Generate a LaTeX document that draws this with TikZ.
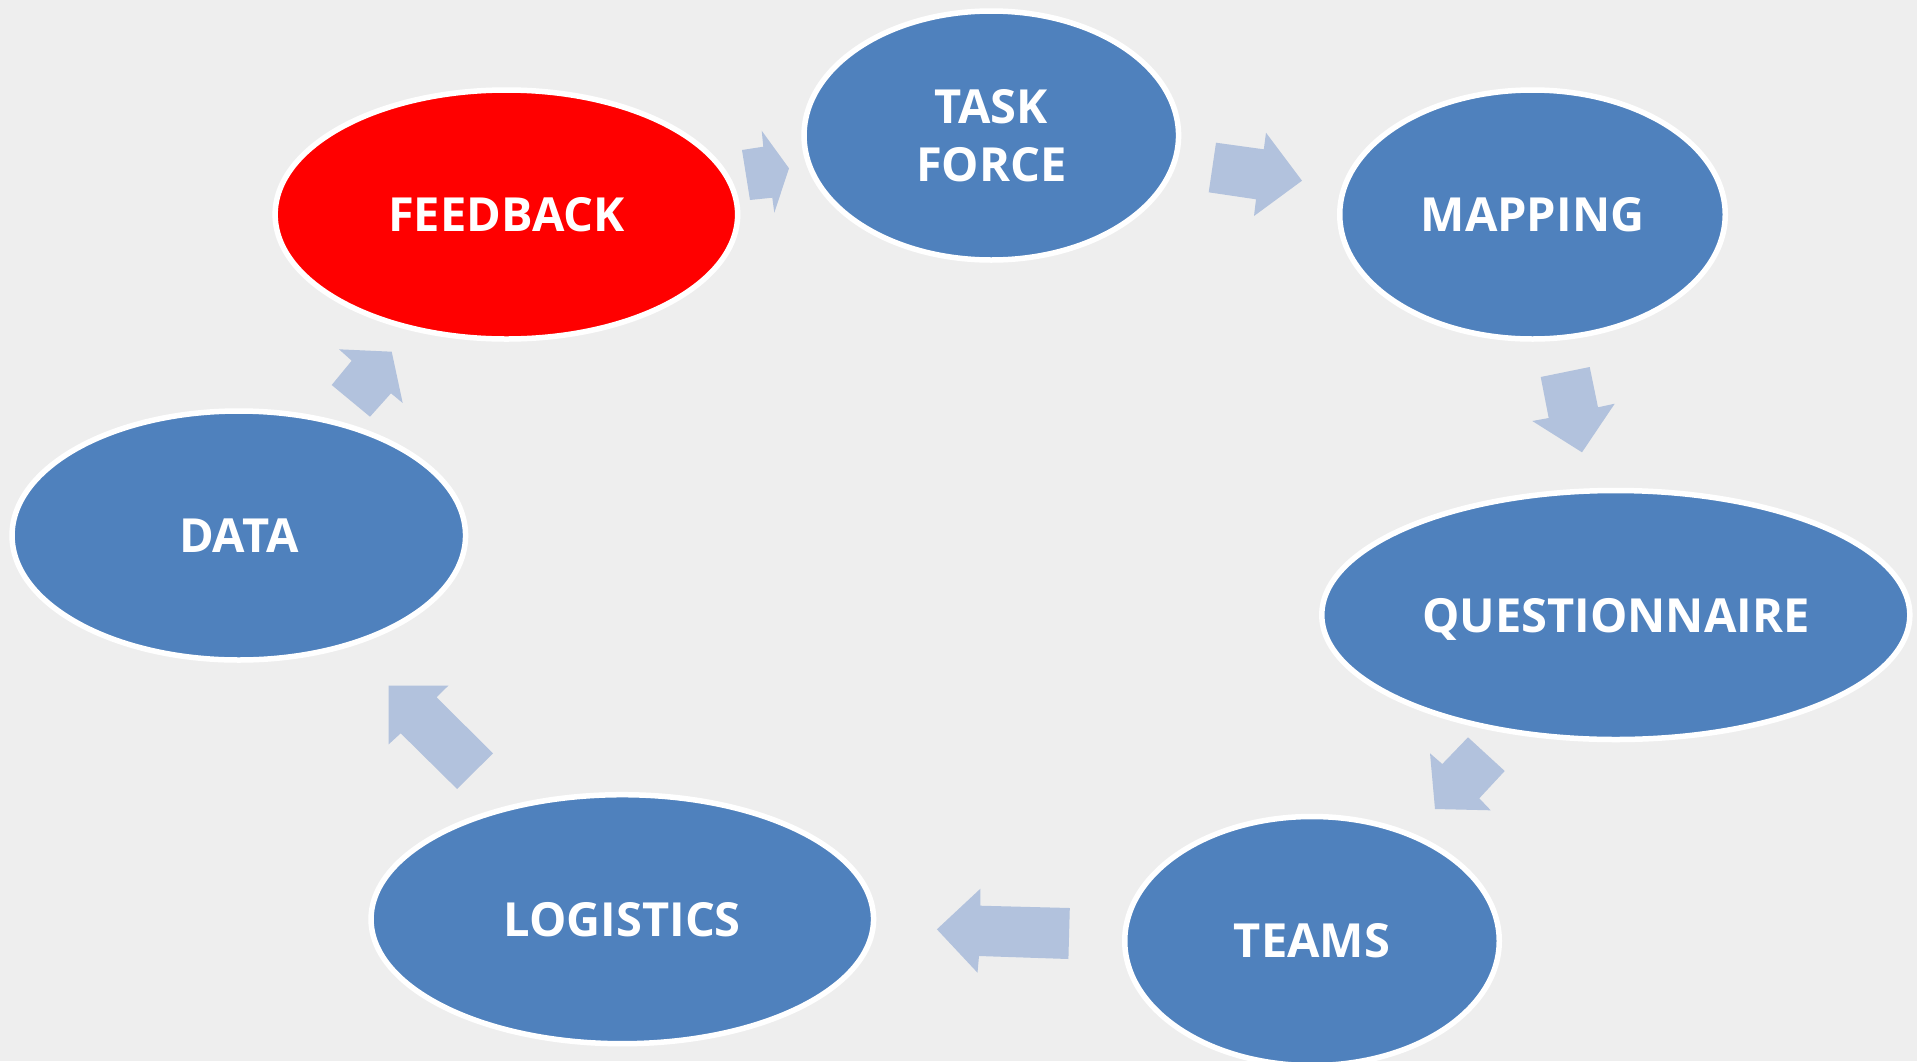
\documentclass[tikz,border=0pt]{standalone}
\usepackage{fontspec}
\setmainfont{Open Sans}
\usetikzlibrary{shapes.geometric}
\definecolor{bg}{HTML}{EEEEEE}
\definecolor{blobblue}{HTML}{4F81BD}
\definecolor{blobred}{HTML}{FF0000}
\definecolor{arrowblue}{HTML}{B2C2DD}
\tikzset{
  blob/.style={ellipse, draw=white, line width=5.5pt, fill=blobblue, inner sep=0pt,
    minimum height=249pt, text=white, align=center,
    font=\fontsize{47}{57.5}\selectfont\bfseries},
  blockarrow/.style={fill=arrowblue, draw=none}
}
\begin{document}
\begin{tikzpicture}[x=1pt,y=-1pt]
\fill[bg] (0,0) rectangle (1917,1061);
\useasboundingbox (0,0) rectangle (1917,1061);

\node[blob, fill=blobred, minimum width=462.5pt] (feedback) at (506.4,214.5) {FEEDBACK};
\node[blob, minimum width=374.5pt] (task) at (991.3,135.5) {TASK\\FORCE};
\node[blob, minimum width=385.5pt] (mapping) at (1532.5,214.5) {MAPPING};
\node[blob, minimum width=588pt, text depth=0pt] (quest) at (1615.8,615) {QUESTIONNAIRE};
\node[blob, minimum width=374.5pt] (teams) at (1312,941) {TEAMS};
\node[blob, minimum width=502.5pt] (logistics) at (622.3,919.2) {LOGISTICS};
\node[blob, minimum width=453.5pt] (data) at (238.8,535.5) {DATA};

% feedback -> task force
\fill[blockarrow] (742,150) -- (763.3,146.7) -- (761.7,130.7) -- (789,168.3) -- (774.3,212.7) -- (772.3,197.7) -- (750,200) -- cycle;
% task force -> mapping
\fill[blockarrow] (1216,142.7) -- (1263.8,149.3) -- (1266,132.7) -- (1302,180.7) -- (1254,216) -- (1256,199.3) -- (1208.7,192.3) -- cycle;
% mapping -> questionnaire
\fill[blockarrow] (1540.7,377) -- (1589.7,367) -- (1598,407.3) -- (1614.7,403.7) -- (1582,452.3) -- (1532.3,421) -- (1548.7,418) -- cycle;
% questionnaire -> teams
\fill[blockarrow] (1468,737.3) -- (1504.7,771) -- (1479.3,798.3) -- (1490.7,810.3) -- (1435,809) -- (1430,753.3) -- (1442.3,764) -- cycle;
% teams -> logistics
\fill[blockarrow] (1069.8,908) -- (1068.4,959) -- (979,956) -- (977.5,972.7) -- (936.9,929.3) -- (980.4,888.7) -- (980.4,905.7) -- cycle;
% logistics -> data
\fill[blockarrow] (493,753.3) -- (457.1,789) -- (400.7,733.3) -- (388.7,744.3) -- (388.7,685.5) -- (448.5,685.5) -- (436.6,697.3) -- cycle;
% data -> feedback
\fill[blockarrow] (339,349.3) -- (391.7,351.7) -- (402.7,403) -- (391,393.3) -- (370,416.7) -- (331.7,385) -- (351.7,360.7) -- cycle;
\end{tikzpicture}
\end{document}
